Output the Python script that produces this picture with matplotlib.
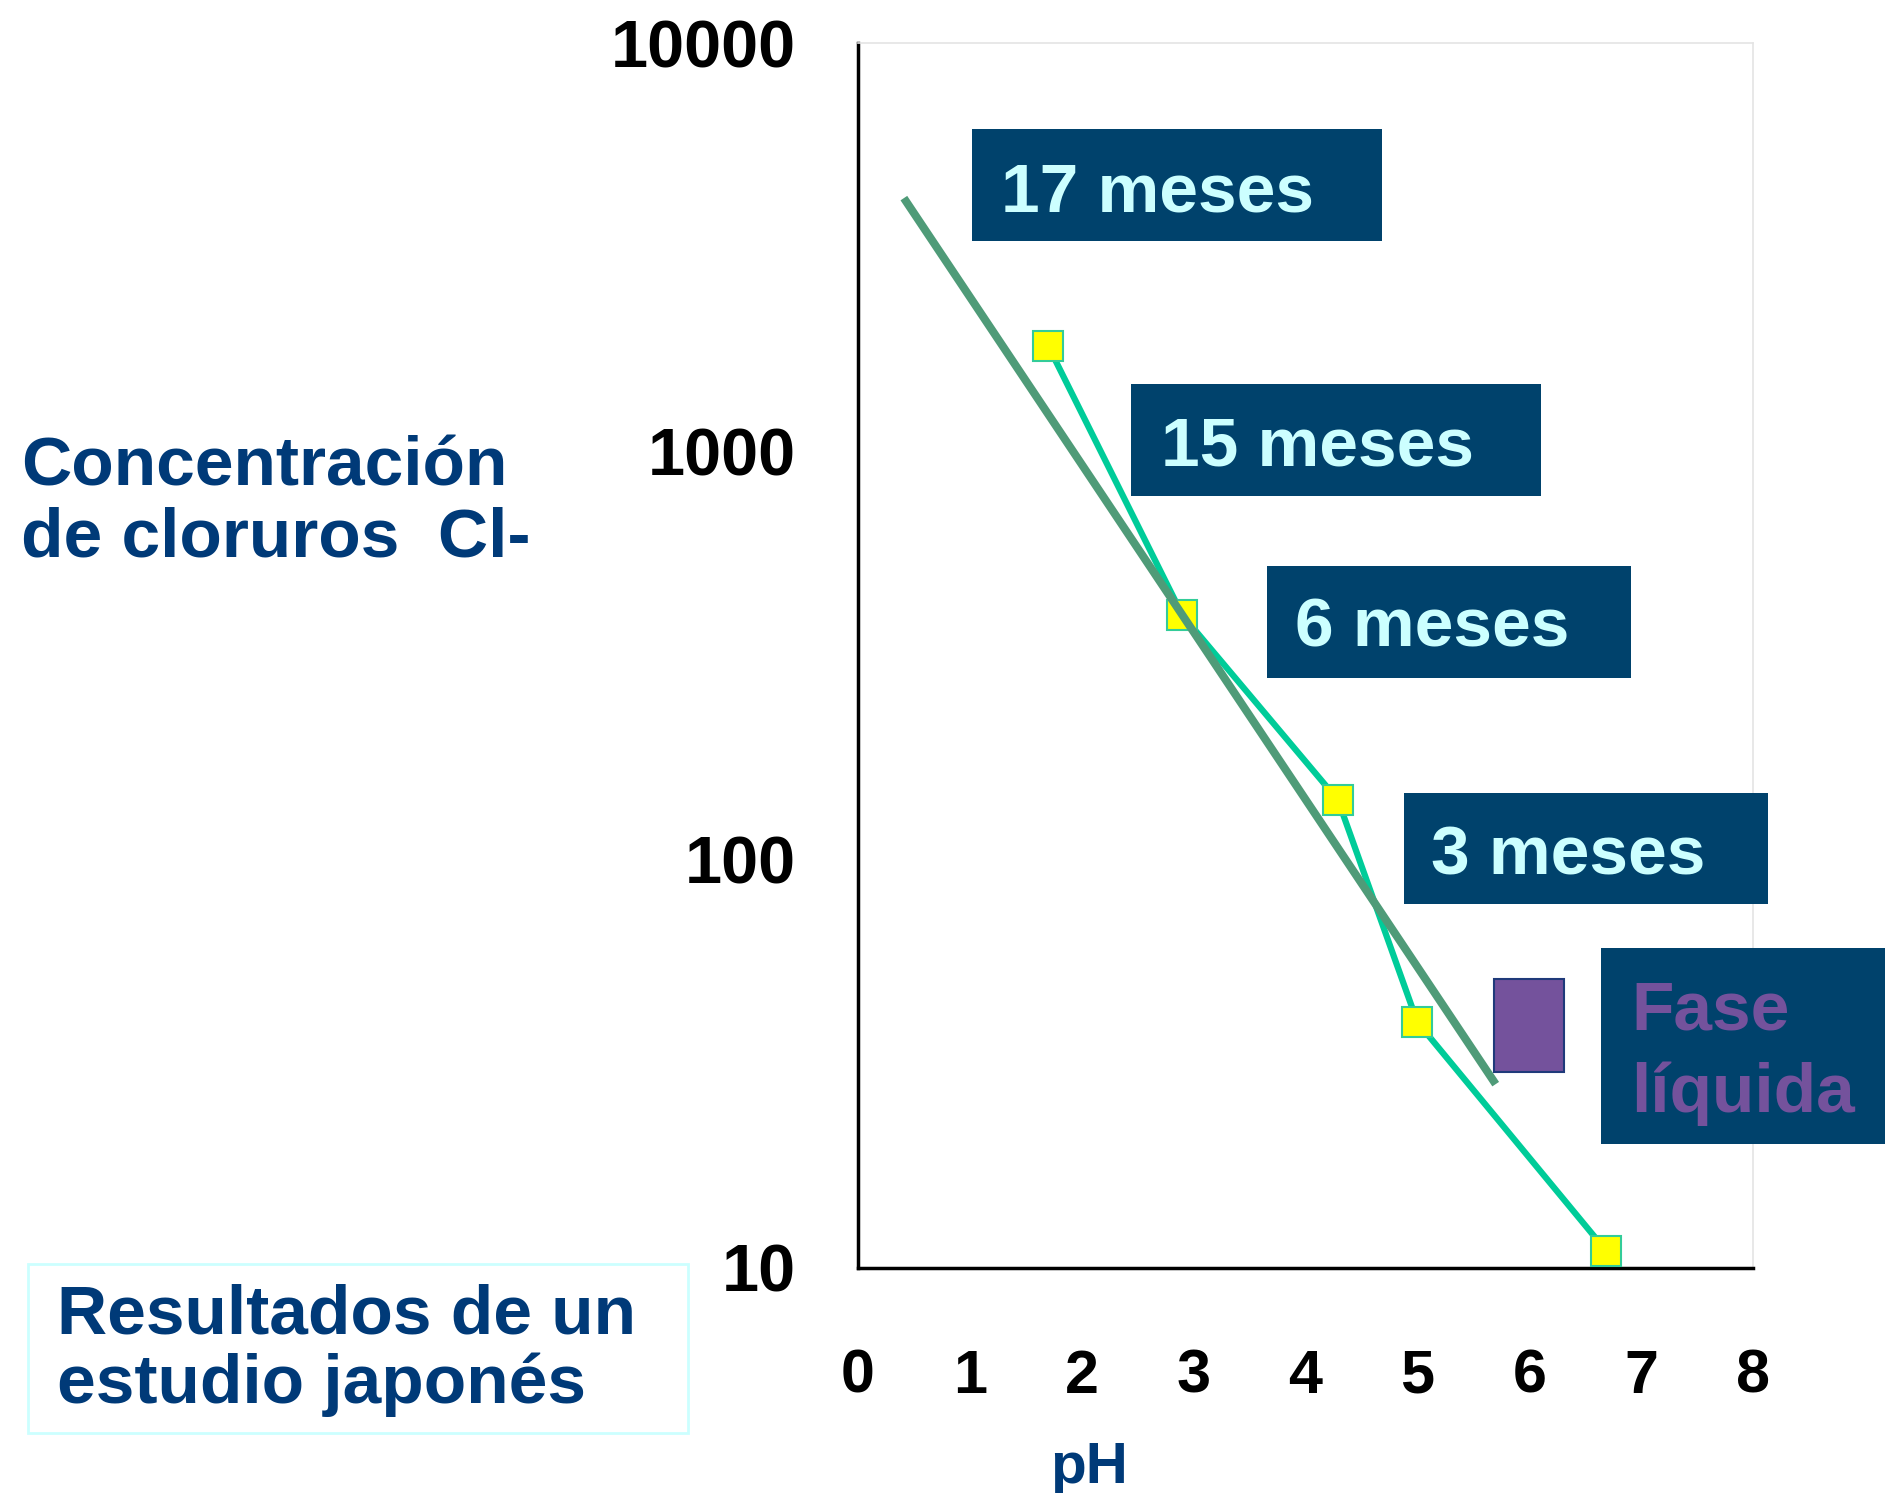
import matplotlib
matplotlib.use('Agg')
import matplotlib.pyplot as plt
from matplotlib.patches import Rectangle

# data
ph_values = [1.70, 2.90, 4.29, 5.00, 6.69]
cl_values = [1812, 397, 140, 40, 11]
trend_ph = [0.41, 5.70]
trend_cl = [4170, 28.2]

x_ticks = [0, 1, 2, 3, 4, 5, 6, 7, 8]
y_ticks = [10, 100, 1000, 10000]
y_tick_labels = ['10', '100', '1000', '10000']

box_labels = ['17 meses', '15 meses', '6 meses', '3 meses']

W, H = 1885, 1493
plt.rcParams['font.family'] = ['Liberation Sans', 'DejaVu Sans']
plt.rcParams['font.weight'] = 'bold'

navy = '#00426C'
cyan_txt = '#CCFFFF'
blue_txt = '#003A78'
purple = '#74529C'

fig = plt.figure(figsize=(W / 100, H / 100), dpi=100)
ax = fig.add_axes([858 / W, 1 - 1268 / H, (1753 - 858) / W, (1268 - 43) / H])


def fx(px):
    return px / W


def fy(py):
    return 1 - py / H


ax.set_yscale('log')
ax.set_xlim(0, 8)
ax.set_ylim(10, 10000)

# trend line sits on top of the data markers
ax.plot(trend_ph, trend_cl, color='#4F9B78', lw=5.8, solid_capstyle='butt', zorder=4)
ax.plot(ph_values, cl_values, color='#00CC99', lw=4.5, zorder=3,
        marker='s', markersize=22, markerfacecolor='#FFFF00',
        markeredgecolor='#33CC99', markeredgewidth=1.5)

ax.set_xticks(x_ticks)
ax.set_xticklabels([str(t) for t in x_ticks], fontsize=44, fontweight='bold')
ax.set_yticks(y_ticks)
ax.set_yticklabels(y_tick_labels, fontsize=48, fontweight='bold')
ax.yaxis.set_minor_locator(matplotlib.ticker.NullLocator())
ax.tick_params(axis='both', length=0)
ax.tick_params(axis='y', pad=45)
ax.tick_params(axis='x', pad=58)

for s in ['left', 'bottom']:
    ax.spines[s].set_linewidth(2.5)
    ax.spines[s].set_color('black')
for s in ['top', 'right']:
    ax.spines[s].set_linewidth(1.2)
    ax.spines[s].set_color('#E4E4E4')

# dark label boxes (pixel geometry, top-left origin)
boxes = [(972, 129, 1382, 241, 1001, 212),
         (1131, 384, 1541, 496, 1161, 465),
         (1267, 566, 1631, 678, 1295, 647),
         (1404, 793, 1768, 904, 1431, 875)]
for lab, (x0, y0, x1, y1, tx, ty) in zip(box_labels, boxes):
    fig.add_artist(Rectangle((fx(x0), fy(y1)), fx(x1 - x0), (y1 - y0) / H,
                             transform=fig.transFigure, facecolor=navy,
                             edgecolor='none', zorder=5))
    fig.text(fx(tx), fy(ty), lab, color=cyan_txt, fontsize=50,
             fontweight='bold', va='baseline', ha='left', zorder=6)

# fase liquida legend
fig.add_artist(Rectangle((fx(1601), fy(1144)), fx(1885 - 1601), (1144 - 948) / H,
                         transform=fig.transFigure, facecolor=navy,
                         edgecolor='none', zorder=5))
fig.text(fx(1631), fy(1030), 'Fase', color=purple, fontsize=50,
         fontweight='bold', va='baseline', zorder=6)
fig.text(fx(1631), fy(1112), 'líquida', color=purple, fontsize=50,
         fontweight='bold', va='baseline', zorder=6)
fig.add_artist(Rectangle((fx(1494), fy(1072)), fx(1564 - 1494), (1072 - 979) / H,
                         transform=fig.transFigure, facecolor=purple,
                         edgecolor='#1F3A7A', lw=1.5, zorder=5))

# axis titles
fig.text(fx(21), fy(486), 'Concentración', color=blue_txt, fontsize=50,
         fontweight='bold', va='baseline')
fig.text(fx(21), fy(557), 'de cloruros  Cl-', color=blue_txt, fontsize=50,
         fontweight='bold', va='baseline')
fig.text(fx(1089), fy(1483), 'pH', color=blue_txt, fontsize=42,
         fontweight='bold', va='baseline', ha='center')

# note box
fig.add_artist(Rectangle((fx(28), fy(1433)), fx(688 - 28), (1433 - 1264) / H,
                         transform=fig.transFigure, facecolor='white',
                         edgecolor='#CCFFFF', lw=2))
fig.text(fx(57), fy(1333), 'Resultados de un', color=blue_txt, fontsize=50,
         fontweight='bold', va='baseline')
fig.text(fx(57), fy(1403), 'estudio japonés', color=blue_txt, fontsize=50,
         fontweight='bold', va='baseline')

fig.savefig('out.png', dpi=100)
